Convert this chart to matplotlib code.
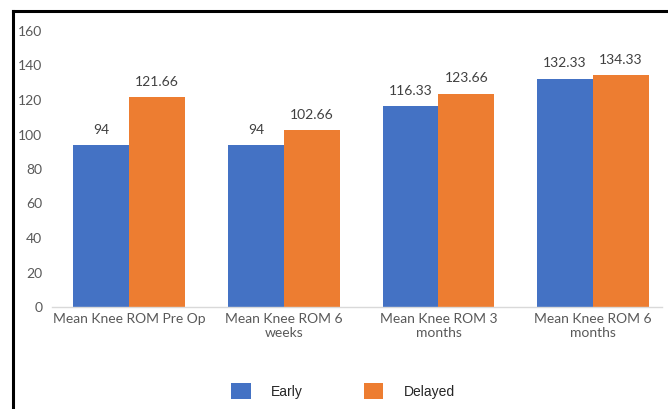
import matplotlib
matplotlib.use("Agg")
import matplotlib.pyplot as plt
from matplotlib.lines import Line2D
import numpy as np

categories = ["Mean Knee ROM Pre Op", "Mean Knee ROM 6\nweeks",
              "Mean Knee ROM 3\nmonths", "Mean Knee ROM 6\nmonths"]
early = [94, 94, 116.33, 132.33]
delayed = [121.66, 102.66, 123.66, 134.33]
early_labels = ["94", "94", "116.33", "132.33"]
delayed_labels = ["121.66", "102.66", "123.66", "134.33"]

blue = "#4472C4"
orange = "#ED7D31"

fig = plt.figure(figsize=(6.68, 4.09), dpi=100)
ax = fig.add_axes([52/668, 102/409, 610/668, 276/409])

x = np.arange(len(categories))
w = 0.362
b1 = ax.bar(x - w/2, early, w, color=blue, label="Early")
b2 = ax.bar(x + w/2, delayed, w, color=orange, label="Delayed")

for bars, labs in ((b1, early_labels), (b2, delayed_labels)):
    for bar, lab in zip(bars, labs):
        ax.annotate(lab, xy=(bar.get_x() + bar.get_width()/2, bar.get_height()),
                    xytext=(0, 11), textcoords="offset points",
                    ha="center", va="center", fontsize=10,
                    color="#404040", family="Lato")

ax.set_xlim(-0.5, 3.446)
ax.set_ylim(0, 160)
ax.set_yticks(range(0, 161, 20))
ax.set_xticks(x)
ax.set_xticklabels(categories, family="Lato", fontsize=10, color="#595959",
                   linespacing=1.2)
for t in ax.get_yticklabels():
    t.set_family("Lato")
    t.set_fontsize(10)
    t.set_color("#595959")
ax.tick_params(axis="both", length=0)
ax.tick_params(axis="y", pad=7)
ax.tick_params(axis="x", pad=4)

for s in ["left", "right", "top"]:
    ax.spines[s].set_visible(False)
ax.spines["bottom"].set_color("#D9D9D9")
ax.spines["bottom"].set_linewidth(1)

# legend at the bottom
leg = fig.legend(handles=[b1, b2], labels=["Early", "Delayed"],
                 loc="center", bbox_to_anchor=(343/668, 1 - 391/409),
                 ncol=2, frameon=False, handlelength=1.4, handleheight=1.4,
                 handletextpad=1.45, columnspacing=4.4,
                 prop={"family": "Liberation Sans", "size": 10})
for t in leg.get_texts():
    t.set_color("#262626")

# black frame lines on left and top
fig.add_artist(Line2D([13/668, 13/668], [0, 1 - 11/409], color="black", lw=2.2,
                      transform=fig.transFigure))
fig.add_artist(Line2D([13/668, 1], [1 - 11/409, 1 - 11/409], color="black", lw=2.2,
                      transform=fig.transFigure))

fig.savefig("out.png", dpi=100)
